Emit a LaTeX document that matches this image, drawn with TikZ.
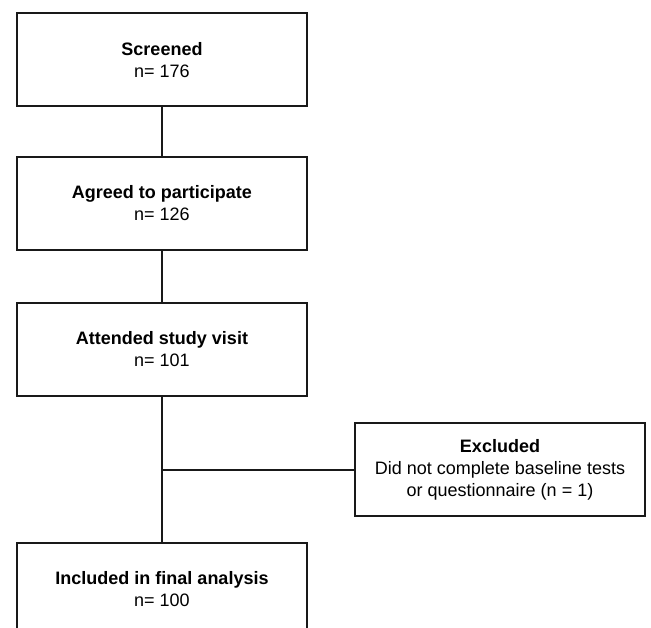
\documentclass[tikz,border=0pt]{standalone}
\usepackage{fontspec}
\setmainfont{Liberation Sans}
\begin{document}
\begin{tikzpicture}[x=1pt,y=-1pt,
  flowbox/.style={draw=black!90, line width=2pt, rectangle, minimum width=290pt, minimum height=93pt, align=center, font=\fontsize{18}{22}\selectfont, inner sep=0pt},
  conn/.style={draw=black!90, line width=2pt}]
\clip (0,0) rectangle (651,628);
\fill[white] (0,0) rectangle (651,628);
\node[flowbox] (scr) at (162,60) {\textbf{Screened}\\n= 176};
\node[flowbox] (agr) at (162,203.5) {\textbf{Agreed to participate}\\n= 126};
\node[flowbox] (att) at (162,349.5) {\textbf{Attended study visit}\\n= 101};
\node[flowbox] (exc) at (500,469.5) {\textbf{Excluded}\\Did not complete baseline tests\\or questionnaire (n = 1)};
\node[flowbox] (inc) at (162,589) {\textbf{Included in final analysis}\\n= 100};
\draw[conn] (scr.south) -- (agr.north);
\draw[conn] (agr.south) -- (att.north);
\draw[conn] (att.south) -- (inc.north);
\coordinate (j) at (exc.west -| att.south);
\draw[conn] (j) -- (exc.west);
\end{tikzpicture}
\end{document}
